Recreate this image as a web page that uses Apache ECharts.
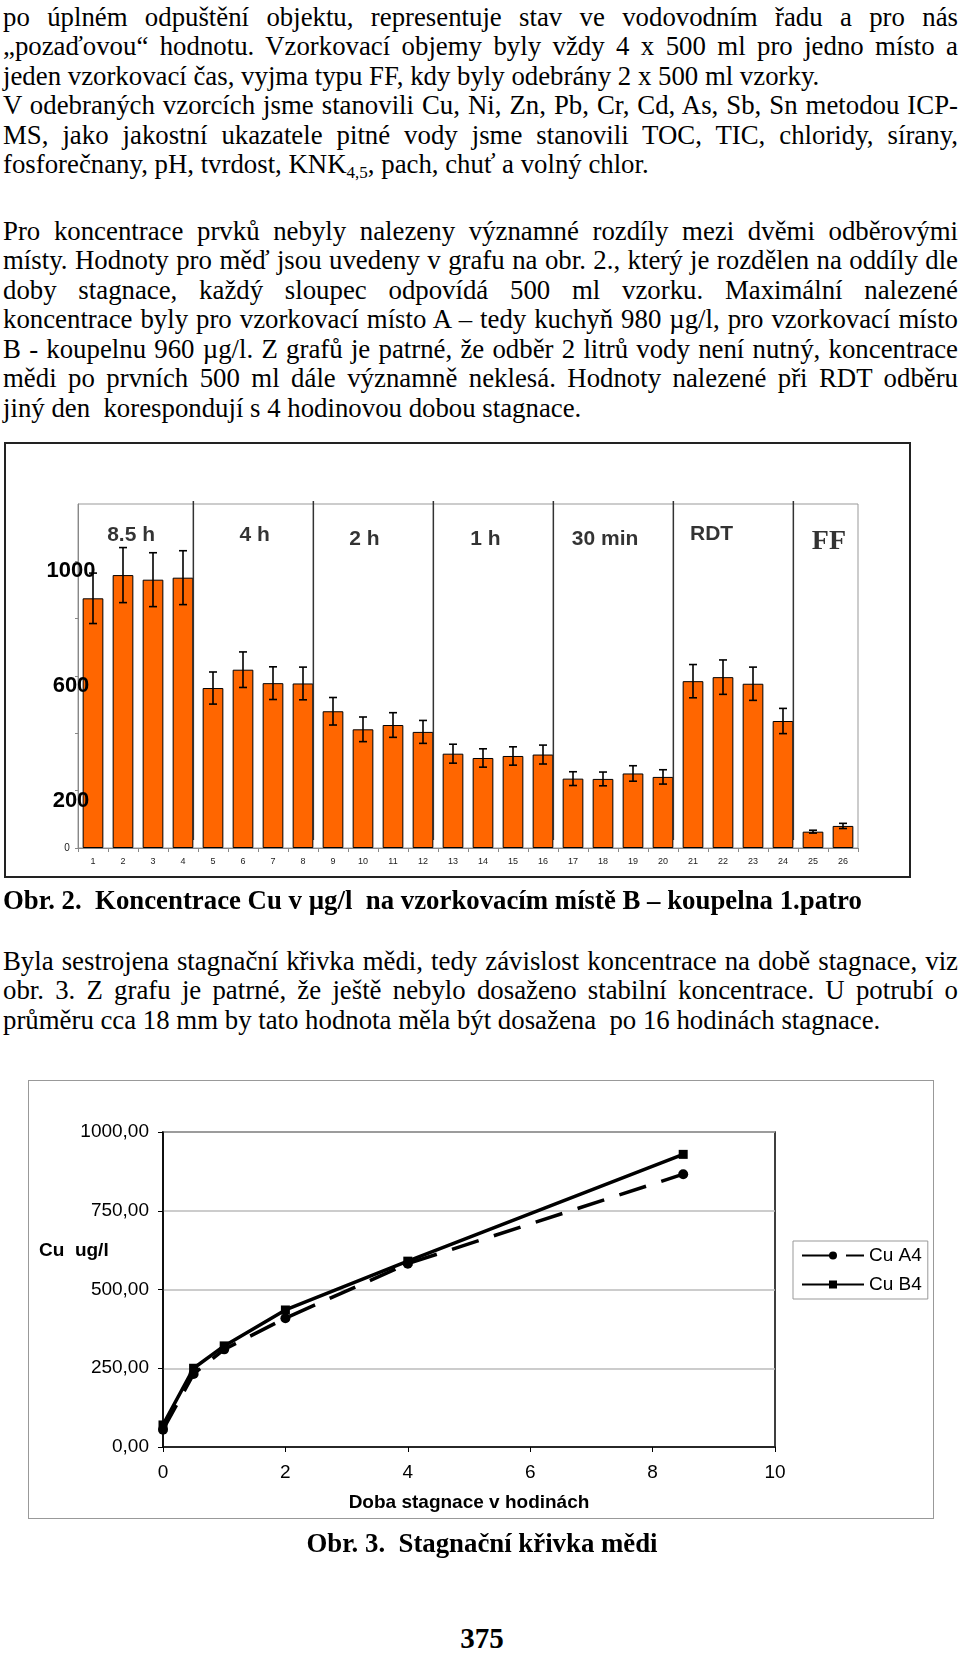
<!DOCTYPE html>
<html>
<head>
<meta charset="utf-8">
<script src="https://cdn.jsdelivr.net/npm/echarts@6/dist/echarts.min.js"></script>
<style>
  html, body { margin: 0; padding: 0; background: #fff; }
  #page { position: relative; width: 960px; height: 1653px; overflow: hidden; background: #fff; }
  .ln { position: absolute; left: 3px; width: 955px; height: 30px; line-height: 30px;
        font-family: "Liberation Serif", "Times New Roman", serif; font-size: 26.8px; color: #000;
        white-space: nowrap; }
  .j { text-align: justify; text-align-last: justify; }
  .l { text-align: left; text-align-last: left; }
  .cap { font-weight: bold; }
  sub { font-size: 17px; vertical-align: -5px; line-height: 0; }
  .frame { position: absolute; box-sizing: border-box; }
  .chart { position: absolute; }
</style>
</head>
<body>
<div id="page">
  <div class="frame" style="left:4px; top:442px; width:907px; height:436px; border:2px solid #222;"></div>
  <div class="frame" style="left:28px; top:1080px; width:906px; height:439px; border:1px solid #999;"></div>
  <div id="bar" class="chart" style="left:0; top:430px; width:960px; height:460px;"></div>
  <div id="line" class="chart" style="left:0; top:1060px; width:960px; height:470px;"></div>
</div>
<script>
// ---------- text ----------
const para1 = [
  ["j", "po úplném odpuštění objektu, representuje stav ve vodovodním řadu a pro nás"],
  ["j", "„pozaďovou“ hodnotu. Vzorkovací objemy byly vždy 4 x 500 ml pro jedno místo a"],
  ["l", "jeden vzorkovací čas, vyjma typu FF, kdy byly odebrány 2 x 500 ml vzorky."],
  ["j", "V odebraných vzorcích jsme stanovili Cu, Ni, Zn, Pb, Cr, Cd, As, Sb, Sn metodou ICP-"],
  ["j", "MS, jako jakostní ukazatele pitné vody jsme stanovili TOC, TIC, chloridy, sírany,"],
  ["l", "fosforečnany, pH, tvrdost, KNK<sub>4,5</sub>, pach, chuť a volný chlor."]
];
const para2 = [
  ["j", "Pro koncentrace prvků nebyly nalezeny významné rozdíly  mezi dvěmi odběrovými"],
  ["j", "místy. Hodnoty pro měď jsou uvedeny v grafu na obr. 2., který je rozdělen na oddíly dle"],
  ["j", "doby stagnace, každý sloupec odpovídá 500 ml vzorku. Maximální nalezené"],
  ["j", "koncentrace byly pro vzorkovací místo A – tedy kuchyň  980 µg/l, pro vzorkovací místo"],
  ["j", "B - koupelnu 960 µg/l. Z grafů je patrné, že odběr 2 litrů vody není nutný, koncentrace"],
  ["j", "mědi po prvních 500 ml dále významně neklesá.  Hodnoty nalezené při RDT odběru"],
  ["l", "jiný den&nbsp; korespondují s 4 hodinovou dobou stagnace."]
];
const caption2 = "Obr. 2.&nbsp; Koncentrace Cu v µg/l&nbsp; na vzorkovacím místě B – koupelna 1.patro";
const para3 = [
  ["j", "Byla sestrojena stagnační křivka mědi, tedy závislost koncentrace na době stagnace, viz"],
  ["j", "obr. 3. Z grafu je patrné, že ještě nebylo dosaženo stabilní koncentrace. U potrubí o"],
  ["l", "průměru cca 18 mm by tato hodnota měla být dosažena&nbsp; po 16 hodinách stagnace."]
];
const caption3 = "Obr. 3.&nbsp; Stagnační křivka mědi";
const pageNo = "375";

const page = document.getElementById('page');
function addLine(cls, html, center, extra) {
  const d = document.createElement('div');
  d.className = 'ln ' + cls;
  d.innerHTML = html;
  d.style.top = (center - 16.5) + 'px';
  if (extra) Object.assign(d.style, extra);
  page.appendChild(d);
}
para1.forEach((l, i) => addLine(l[0], l[1], 18 + 29.5 * i));
para2.forEach((l, i) => addLine(l[0], l[1], 232 + 29.5 * i));
addLine('l cap', caption2, 901);
para3.forEach((l, i) => addLine(l[0], l[1], 962 + 29.5 * i));
addLine('cap', caption3, 1544, { textAlign: 'center', left: '0px', width: '964px' });
addLine('cap', pageNo, 1639, { textAlign: 'center', left: '0px', width: '964px', fontSize: '29px' });

// ---------- Obr. 2 data ----------
const barCategories = ['1','2','3','4','5','6','7','8','9','10','11','12','13','14','15','16','17','18','19','20','21','22','23','24','25','26'];
const cuValues = [871, 952, 936, 943, 558, 622, 575, 574, 477, 414, 429, 405, 329, 314, 321, 326, 242, 241, 260, 248, 582, 596, 573, 443, 57, 77];
const cuErrors = [88, 96, 94, 94, 56, 62, 57, 57, 48, 43, 43, 40, 33, 32, 32, 33, 24, 24, 27, 25, 58, 60, 58, 44, 5, 9];
const yLabelShown = [200, 600, 1000];
const dividerAfter = [4, 8, 12, 16, 20, 24];
const sectionNames = ['8.5 h', '4 h', '2 h', '1 h', '30 min', 'RDT', 'FF'];
const sectionX = [1.77, 5.89, 9.55, 13.58, 17.57, 21.12, 25.03];
const sectionY = [1092, 1092, 1078, 1078, 1078, 1096, 1068];

// ---------- Obr. 3 data ----------
const stagnationHours = [0, 0.5, 1, 2, 4, 8.5];
const cuA4 = [55, 232, 310, 409, 582, 866];
const cuB4 = [70, 250, 321, 435, 590, 929];

const SANS = '"Liberation Sans", Arial, sans-serif';
const SERIF = '"Liberation Serif", "Times New Roman", serif';
const BAR_RATIO = 0.69;

const bar = echarts.init(document.getElementById('bar'), null, { renderer: 'canvas' });
bar.setOption({
  animation: false,
  backgroundColor: 'transparent',
  grid: { left: 78, right: 102, top: 74, bottom: 42, show: true, borderColor: '#999', borderWidth: 1 },
  xAxis: [{
    type: 'category', data: barCategories,
    axisLine: { lineStyle: { color: '#888', width: 1 } },
    axisTick: { show: true, length: 4, lineStyle: { color: '#888' } },
    axisLabel: {
      fontFamily: SANS, fontSize: 9, color: '#222', margin: 9,
      formatter: v => (v === '25' || v === '26') ? '{r|' + v + '}' : v,
      rich: { r: { fontFamily: SANS, fontSize: 9, color: '#222', padding: [0, 0, 8, 0] } }
    }
  }, {
    type: 'value', min: 0, max: 26, show: false
  }],
  yAxis: {
    type: 'value', min: 0, max: 1200, interval: 200, z: 10,
    splitLine: { show: false },
    axisLine: { show: true, lineStyle: { color: '#888', width: 1 } },
    axisTick: { show: true, length: 3, lineStyle: { color: '#888' } },
    axisLabel: {
      align: 'center', margin: 7, showMaxLabel: false,
      formatter: v => v === 0 ? '{s|0}' : (yLabelShown.includes(v) ? '{b|' + v + '}' : ''),
      rich: {
        b: { fontFamily: SANS, fontSize: 22, fontWeight: 'bold', color: '#000', padding: [20, 0, 0, 0] },
        s: { fontFamily: SANS, fontSize: 10, color: '#222', padding: [0, 8, 0, 0] }
      }
    }
  },
  series: [{
    type: 'bar', data: cuValues, barWidth: (BAR_RATIO * 100) + '%', silent: true,
    itemStyle: { color: '#FF6600', borderColor: '#000', borderWidth: 1 }
  }, {
    type: 'custom', silent: true, clip: false, z: 5,
    data: cuValues.map((v, i) => [i, v, cuErrors[i]]),
    encode: { x: 0, y: 1 },
    renderItem: (params, api) => {
      const i = api.value(0), v = api.value(1), e = api.value(2);
      const hi = api.coord([i, v + e]), lo = api.coord([i, v - e]);
      const cap = 4;
      const st = { stroke: '#000', lineWidth: 1.6 };
      return { type: 'group', children: [
        { type: 'line', shape: { x1: hi[0], y1: hi[1], x2: lo[0], y2: lo[1] }, style: st },
        { type: 'line', shape: { x1: hi[0] - cap, y1: hi[1], x2: hi[0] + cap, y2: hi[1] }, style: st },
        { type: 'line', shape: { x1: lo[0] - cap, y1: lo[1], x2: lo[0] + cap, y2: lo[1] }, style: st }
      ]};
    }
  }, {
    type: 'custom', silent: true, clip: false, z: 4,
    data: dividerAfter.map(n => [n - 1, 0]),
    encode: { x: 0, y: 1 },
    renderItem: (params, api) => {
      const i = api.value(0);
      const bw = api.size([1, 0])[0];
      const top = api.coord([i, 1200]), bot = api.coord([i, 28]);
      const x = top[0] + bw * BAR_RATIO / 2;
      return { type: 'line', shape: { x1: x, y1: top[1] - 3, x2: x, y2: bot[1] },
               style: { stroke: '#333', lineWidth: 1.5 } };
    }
  }, {
    type: 'scatter', xAxisIndex: 1, silent: true, symbolSize: 0,
    data: sectionNames.map((n, i) => ({
      value: [sectionX[i], sectionY[i]], name: n,
      label: n === 'FF' ? { fontFamily: SERIF, fontSize: 28, fontWeight: 'bold' } : undefined
    })),
    label: { show: true, position: 'inside', formatter: p => p.name,
             fontFamily: SANS, fontSize: 21, fontWeight: 'bold', color: '#000' }
  }]
});

const line = echarts.init(document.getElementById('line'), null, { renderer: 'canvas' });
line.setOption({
  animation: false,
  backgroundColor: 'transparent',
  title: { text: 'Cu  ug/l', left: 34, top: 176, padding: 5,
           textStyle: { fontFamily: SANS, fontSize: 19, fontWeight: 'bold', color: '#000' } },
  grid: { left: 163, right: 185, top: 72, bottom: 83, show: true, borderColor: '#000', borderWidth: 1.5 },
  legend: {
    orient: 'vertical', left: 793, top: 181, padding: [5, 6, 5, 8], itemGap: 10,
    itemWidth: 62, itemHeight: 10, borderColor: '#999', borderWidth: 1,
    textStyle: { fontFamily: SANS, fontSize: 19, color: '#000' },
    data: ['Cu A4', 'Cu B4']
  },
  xAxis: {
    type: 'value', min: 0, max: 10, interval: 2,
    name: 'Doba stagnace v hodinách', nameLocation: 'middle', nameGap: 46,
    nameTextStyle: { fontFamily: SANS, fontSize: 19, fontWeight: 'bold', color: '#000' },
    splitLine: { show: false },
    axisLine: { lineStyle: { color: '#000', width: 1.5 } },
    axisTick: { show: true, length: 5, lineStyle: { color: '#000' } },
    axisLabel: { fontFamily: SANS, fontSize: 19, color: '#000', margin: 16 }
  },
  yAxis: {
    type: 'value', min: 0, max: 1000, interval: 250,
    splitLine: { show: true, lineStyle: { color: '#bbb', width: 1.5 } },
    axisLine: { show: true, lineStyle: { color: '#000', width: 1.5 } },
    axisTick: { show: true, length: 5, lineStyle: { color: '#000' } },
    axisLabel: { fontFamily: SANS, fontSize: 19, color: '#000', margin: 14,
                 formatter: v => v.toFixed(2).replace('.', ',') }
  },
  series: [{
    name: 'Cu A4', type: 'line', silent: true,
    data: stagnationHours.map((h, i) => [h, cuA4[i]]),
    symbol: 'circle', symbolSize: 10,
    lineStyle: { color: '#000', width: 3.5, type: [28, 16] },
    itemStyle: { color: '#000' }
  }, {
    name: 'Cu B4', type: 'line', silent: true,
    data: stagnationHours.map((h, i) => [h, cuB4[i]]),
    symbol: 'rect', symbolSize: 9,
    lineStyle: { color: '#000', width: 3.5, type: 'solid' },
    itemStyle: { color: '#000' }
  }]
});
</script>
</body>
</html>
